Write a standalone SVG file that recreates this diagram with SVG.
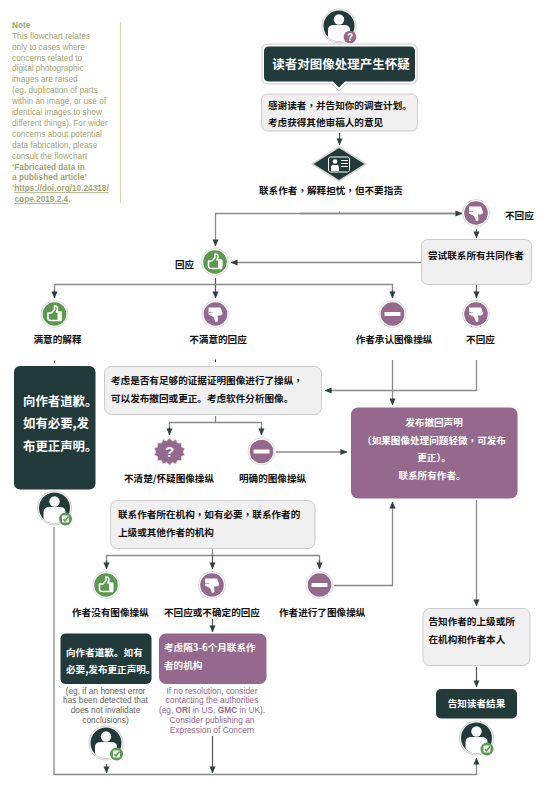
<svg xmlns="http://www.w3.org/2000/svg" width="554" height="799" viewBox="0 0 554 799">
<style>
text{font-family:"Noto Sans CJK SC","Liberation Sans",sans-serif;font-weight:700;font-size:9.6px;fill:#111}
.tc{font-family:"Noto Sans CJK TC",sans-serif}
.lat{font-family:"Liberation Sans",Arial,sans-serif}
.note{font-size:8.25px;font-weight:400;fill:#a5a473;font-family:"Liberation Sans",Arial,sans-serif}
.noteb{font-weight:700}
.w{fill:#fff}
.m{text-anchor:middle}
.cap{font-size:8.35px;font-weight:400;text-anchor:middle;fill:#666;font-family:"Liberation Sans",Arial,sans-serif}
.capp{font-size:8.35px;font-weight:400;text-anchor:middle;fill:#96698f;font-family:"Liberation Sans",Arial,sans-serif}
.grey{fill:#f0f0f0;stroke:#ccc;stroke-width:1}
.dark{fill:#233a3b}
.purple{fill:#95698e}
.ln{fill:none;stroke:#8a8a8a;stroke-width:1.3}
.tail{fill:none;stroke:#555;stroke-width:1.2}
</style>
<defs>
<marker id="ah" viewBox="0 0 8 8" refX="7.500" refY="4" markerWidth="7" markerHeight="7" orient="auto" markerUnits="userSpaceOnUse"><path d="M0,0.500L8,4L0,7.500z" fill="#2f4141"/></marker>
<clipPath id="pc"><circle r="15.500"/></clipPath>
<g id="ring"><circle r="13.500" fill="#fff" stroke="#ddd" stroke-width="1"/></g>
<g id="up"><use href="#ring"/><circle r="11.800" fill="#5c984f"/><path d="M-6.500,-1H-3L0,-4.500V-8Q3,-8.500 3,-5L2,-2H6.500V6.500H-3Q-6.500,6.500 -6.500,4.500Z" fill="none" stroke="#fff" stroke-width="1.600" stroke-linejoin="round"/><path d="M3,-1.500H7.500V1H3zM3,1H7.500V3.500H3zM3,3.500H7V6.500H3z" fill="#fff"/></g>
<g id="down"><use href="#ring"/><circle r="11.800" fill="#95698e"/><path d="M-7,-6.500H5L7,-1Q7,1 5,1.500L2,1.500L2.500,6Q2.500,8.500 0,8L-2,3L-7,0.500Z" fill="#fff"/><path d="M-7,-1.500L-3,-1.500" stroke="#95698e" stroke-width="0.600"/></g>
<g id="minus"><use href="#ring"/><circle r="11.800" fill="#95698e"/><rect x="-8" y="-2" width="16" height="4" fill="#fff" rx="0.500"/></g>
<g id="person"><circle r="17" fill="#fff" stroke="#ccc" stroke-width="1"/><circle r="15.500" fill="#233a3b"/><g clip-path="url(#pc)"><circle cy="-6.500" r="5.200" fill="#fff"/><path d="M-11,16V4Q-11,-1 -5,-1H5Q11,-1 11,4V16Z" fill="#fff"/></g></g>
<g id="check"><circle r="6.500" fill="#5c984f"/><rect x="-3.500" y="-3.500" width="7" height="7" rx="1" fill="#fff"/><path d="M-2,0L-0.500,2L3,-2.500" fill="none" stroke="#5c984f" stroke-width="1.500"/></g>
</defs>
<rect width="554" height="799" fill="#fff"/>

<g id="connectors">
<path class="ln" d="M462,213.500H215.500V246" marker-end="url(#ah)"/>
<path class="ln" d="M300,213.500H462" marker-end="url(#ah)"/>
<path class="ln" d="M339.500,211.500V213"/>
<path class="tail" d="M339.500,133V145" marker-end="url(#ah)"/>
<path class="tail" d="M476.500,229V238" marker-end="url(#ah)"/>
<path class="ln" d="M421,262.500H231" marker-end="url(#ah)"/>
<path class="tail" d="M215.500,278V298" marker-end="url(#ah)"/>
<path class="ln" d="M54.500,298V284.500H392.500V298"/>
<path class="tail" d="M54.500,290V298" marker-end="url(#ah)"/>
<path class="tail" d="M392.500,290V298" marker-end="url(#ah)"/>
<path class="tail" d="M476.500,285V298" marker-end="url(#ah)"/>
<path d="M54.500,360.500V363M215.500,359.500V362" stroke="#333" fill="none"/>
<path class="ln" d="M476.500,360V390.500H325" marker-end="url(#ah)"/>
<path class="ln" d="M392.500,360V405" marker-end="url(#ah)"/>
<path class="ln" d="M215.500,416V422.500"/>
<path class="ln" d="M169.500,435V422.500H261.500V435"/>
<path class="tail" d="M169.500,427V435" marker-end="url(#ah)"/>
<path class="tail" d="M261.500,427V435" marker-end="url(#ah)"/>
<path class="ln" d="M276,452H347" marker-end="url(#ah)"/>
<path class="ln" d="M476.500,500V606" marker-end="url(#ah)"/>
<path class="tail" d="M476.500,667V687" marker-end="url(#ah)"/>
<path class="ln" d="M212.500,549V555.500"/>
<path class="ln" d="M106.500,569V555.500H319.500V569"/>
<path class="tail" d="M106.500,560V569" marker-end="url(#ah)"/>
<path class="tail" d="M212.500,555V569" marker-end="url(#ah)"/>
<path class="tail" d="M319.500,560V569" marker-end="url(#ah)"/>
<path class="ln" d="M334,585.500H392.500V502" marker-end="url(#ah)"/>
<path class="tail" d="M212.500,619V632" marker-end="url(#ah)"/>
<path class="ln" d="M54,527V774.500H476.500V758" marker-end="url(#ah)"/>
<path class="tail" d="M106.500,764V773" marker-end="url(#ah)"/>
<path class="tail" d="M212.500,736V773" marker-end="url(#ah)"/>
</g>

<g id="note">
<path d="M120.500,22V203" stroke="#dccfb2" stroke-width="1.200" fill="none"/>
<text class="note noteb" x="12" y="28">Note</text>
<text class="note" x="12" y="38.700">This flowchart relates</text>
<text class="note" x="12" y="49.600">only to cases where</text>
<text class="note" x="12" y="60.500">concerns related to</text>
<text class="note" x="12" y="71.400">digital photographic</text>
<text class="note" x="12" y="82.300">images are raised</text>
<text class="note" x="12" y="93.200">(eg, duplication of parts</text>
<text class="note" x="12" y="104.100">within an image, or use of</text>
<text class="note" x="12" y="115">identical images to show</text>
<text class="note" x="12" y="125.900">different things). For wider</text>
<text class="note" x="12" y="136.800">concerns about potential</text>
<text class="note" x="12" y="147.700">data fabrication, please</text>
<text class="note" x="12" y="158.600">consult the flowchart</text>
<text class="note noteb" x="12" y="169.500">‘Fabricated data in</text>
<text class="note noteb" x="12" y="180.400">a published article’</text>
<text class="note noteb" x="12" y="191.300">‘<tspan text-decoration="underline">https://doi.org/10.24318/</tspan></text>
<text class="note noteb" x="14.500" y="202.200"><tspan text-decoration="underline">cope.2019.2.4</tspan>.</text>
</g>

<g id="reader-start"><use href="#person" x="339" y="26"/><circle cx="350" cy="37" r="6.300" fill="#95698e"/><text class="w m lat" x="350" y="40.500" style="font-size:10px">?</text></g>

<g id="title">
<path d="M268,44H411Q417,44 417,50V78Q417,84 411,84H346L339,91L332,84H268Q262,84 262,78V50Q262,44 268,44Z" fill="#fff" stroke="#ccc"/>
<path d="M269,46.500H410Q415,46.500 415,51.500V76.500Q415,81.500 410,81.500H345L339,87.500L333,81.500H269Q264,81.500 264,76.500V51.500Q264,46.500 269,46.500Z" class="dark"/>
<text class="w m" x="341" y="68.500" style="font-size:12.500px">读者对图像处理产生怀疑</text>
</g>

<g id="thanks"><rect class="grey" x="261.500" y="94" width="156" height="37" rx="6"/>
<text x="268" y="108.500">感谢读者<tspan class="tc">，</tspan>并告知你的调查计划。</text>
<text x="268" y="126">考虑获得其他审稿人的意见</text></g>

<g id="contact-diamond"><path d="M339,147L366,164L339,181L312,164Z" fill="#233a3b" stroke="#d5d5d5" stroke-width="1.500"/>
<rect x="328.500" y="157" width="21" height="15" rx="2" fill="#233a3b" stroke="#fff"/><circle cx="335" cy="161.500" r="2.300" fill="#fff"/><path d="M331,171V167Q331,165 333,165H337Q339,165 339,167V171Z" fill="#fff"/><path d="M341,160.500H348M341,163.500H348M341,166.500H348" stroke="#fff"/></g>
<g id="contact-label"><text x="259" y="193.500">联系作者<tspan class="tc">，</tspan>解释担忧<tspan class="tc">，</tspan>但不要指责</text></g>

<g id="noresp1"><use href="#down" x="476" y="213"/><text x="505" y="218.500">不回应</text></g>
<g id="coauthors"><rect class="grey" x="421.500" y="239.500" width="110" height="45" rx="6"/><text class="m" x="476" y="259">尝试联系所有共同作者</text></g>
<g id="resp"><use href="#up" x="215" y="262"/><text x="175" y="267.500">回应</text></g>

<g id="satisfied"><use href="#up" x="54.500" y="314"/><text class="m" x="57.500" y="343">满意的解释</text></g>
<g id="unsatisfied"><use href="#down" x="215.500" y="314"/><text class="m" x="218" y="343">不满意的回应</text></g>
<g id="admits"><use href="#minus" x="392.500" y="314"/><text class="m" x="394" y="343">作者承认图像操纵</text></g>
<g id="noresp2"><use href="#down" x="476" y="314"/><text class="m" x="480.500" y="343">不回应</text></g>

<g id="apology"><rect class="dark" x="14" y="366" width="81.500" height="123.500" rx="6"/>
<text class="w" x="23" y="405.500" style="font-size:12.400px">向作者道歉。</text>
<text class="w" x="23" y="428" style="font-size:12.400px">如有必要,发</text>
<text class="w" x="23" y="451" style="font-size:12.400px">布更正声明。</text></g>
<g id="reader-ok1"><use href="#person" x="54.500" y="508"/><use href="#check" x="65.500" y="519"/></g>

<g id="evidence"><rect class="grey" x="104.500" y="366.500" width="217" height="48" rx="7"/>
<text x="111" y="384">考虑是否有足够的证据证明图像进行了操纵<tspan class="tc">，</tspan></text>
<text x="111" y="402">可以发布撤回或更正。考虑软件分析图像。</text></g>

<g id="unclear"><path d="M169.500,438L172.500,441L176,439.500L177.500,443L181.500,443L181.500,447L185,448.500L183,452L185,455L181.500,456.500L181.500,460.500L177.500,460.500L176,464L172.500,462.500L169.500,465L166.500,462.500L163,464L161.500,460.500L157.500,460.500L157.500,456.500L154,455L156,452L154,448.500L157.500,447L157.500,443L161.500,443L163,439.500L166.500,441Z" fill="#95698e" stroke="#ddd" stroke-width="0.800"/><text class="w m lat" x="169.500" y="457" style="font-size:15px">?</text>
<text x="124" y="481.500">不清楚/怀疑图像操纵</text></g>
<g id="clear"><use href="#minus" x="261.500" y="451.500"/><text x="239" y="481.500">明确的图像操纵</text></g>

<g id="retract"><rect class="purple" x="351" y="407.500" width="166.500" height="91" rx="7"/>
<text class="w m" x="434" y="425.500">发布撤回声明</text>
<text class="w m" x="434" y="443.500"><tspan class="tc">（</tspan>如果图像处理问题轻微<tspan class="tc">，</tspan>可发布</text>
<text class="w m" x="434" y="460.500">更正<tspan class="tc">）</tspan>。</text>
<text class="w m" x="432" y="478.500">联系所有作者。</text></g>

<g id="institution"><rect class="grey" x="110.500" y="500.500" width="204.500" height="48" rx="7"/>
<text x="118" y="517.500">联系作者所在机构<tspan class="tc">，</tspan>如有必要<tspan class="tc">，</tspan>联系作者的</text>
<text x="118" y="535.500">上级或其他作者的机构</text></g>

<g id="nomanip"><use href="#up" x="106" y="585"/><text x="72" y="615.500">作者没有图像操纵</text></g>
<g id="nores3"><use href="#down" x="212" y="585"/><text x="164" y="615.500">不回应或不确定的回应</text></g>
<g id="manip"><use href="#minus" x="319.500" y="585"/><text x="279" y="615.500">作者进行了图像操纵</text></g>

<g id="apology2"><rect class="dark" x="60.500" y="633.500" width="91" height="50.500" rx="5"/>
<text class="w" x="66" y="655.500">向作者道歉。如有</text>
<text class="w" x="66" y="673">必要,发布更正声明。</text>
<text class="cap" x="105.500" y="693.500">(eg, if an honest error</text>
<text class="cap" x="105.500" y="703.200">has been detected that</text>
<text class="cap" x="105.500" y="713">does not invalidate</text>
<text class="cap" x="105.500" y="722.700">conclusions)</text></g>
<g id="reader-ok2"><use href="#person" x="106" y="743"/><use href="#check" x="116.500" y="754"/></g>

<g id="recontact"><rect class="purple" x="159" y="633.500" width="107.500" height="50.500" rx="7"/>
<text class="w" x="164" y="651">考虑隔3-6个月联系作</text>
<text class="w" x="164" y="669">者的机构</text>
<text class="capp" x="212" y="693.500">If no resolution, consider</text>
<text class="capp" x="212" y="703.200">contacting the authorities</text>
<text class="capp" x="212" y="713">(eg, <tspan font-weight="700">ORI</tspan> in US, <tspan font-weight="700">GMC</tspan> in UK).</text>
<text class="capp" x="212" y="722.700">Consider publishing an</text>
<text class="capp" x="212" y="732.500">Expression of Concern</text></g>

<g id="inform-sup"><rect class="grey" x="423" y="608.500" width="107" height="57" rx="7"/>
<text x="428.500" y="624.500">告知作者的上级或所</text>
<text x="428.500" y="642.500">在机构和作者本人</text></g>
<g id="inform-reader"><rect class="dark" x="436" y="689" width="81" height="29.500" rx="5"/><text class="w m" x="476.500" y="706.500">告知读者结果</text></g>
<g id="reader-ok3"><use href="#person" x="476.500" y="738"/><use href="#check" x="487" y="749"/></g>
</svg>
